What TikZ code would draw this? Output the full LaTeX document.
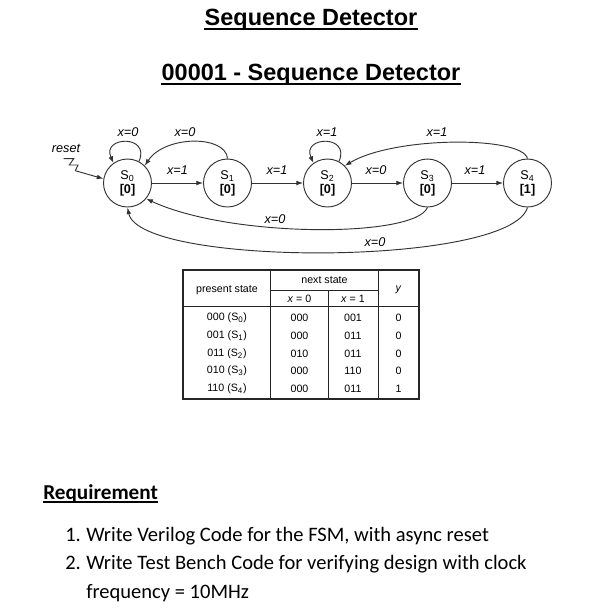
\documentclass[tikz,border=0pt]{standalone}
\usepackage{fontspec}
\setmainfont{Liberation Sans}
\newfontfamily\calibri{Carlito}
\usetikzlibrary{arrows.meta}
\definecolor{lineclr}{gray}{0.2}
\begin{document}
\begin{tikzpicture}[x=0.75pt,y=-0.75pt,
  state/.style={circle,draw=lineclr,line width=0.7pt,minimum size=36pt,inner sep=0pt,align=center,font=\fontsize{9.5}{10.5}\selectfont},
  lbl/.style={font=\fontsize{9.5}{11}\selectfont\itshape,inner sep=0pt},
  arr/.style={draw=lineclr,line width=0.7pt,-{Latex[length=5pt,width=3.6pt]}},
  plain/.style={draw=lineclr,line width=0.7pt},
  tbl/.style={font=\fontsize{8}{9}\selectfont,inner sep=0pt},
  tline/.style={draw=black!85,line width=0.6pt},
  title/.style={font=\fontsize{17.6}{20}\selectfont\bfseries,anchor=base,inner sep=0pt},
  req/.style={font=\calibri\fontsize{15.4}{18}\selectfont,anchor=base west,inner sep=0pt}]
\useasboundingbox (0,0) rectangle (605,612);

% titles
\node[title] (t1) at (311,25) {Sequence Detector};
\draw[line width=1.4pt] ([yshift=-3pt]t1.base west) -- ([yshift=-3pt]t1.base east);
\node[title] (t2) at (311,80) {00001 - Sequence Detector};
\draw[line width=1.4pt] ([yshift=-3pt]t2.base west) -- ([yshift=-3pt]t2.base east);

% states
\node[state] (s0) at (127.5,183) {S\textsubscript{0}\\\textbf{[0]}};
\node[state] (s1) at (227.5,183) {S\textsubscript{1}\\\textbf{[0]}};
\node[state] (s2) at (327.5,183) {S\textsubscript{2}\\\textbf{[0]}};
\node[state] (s3) at (427.5,183) {S\textsubscript{3}\\\textbf{[0]}};
\node[state] (s4) at (527.5,183) {S\textsubscript{4}\\\textbf{[1]}};

% reset
\node[lbl] (rst) at (66,148) {reset};
\coordinate (z0) at (63.7,158.7);
\coordinate (z1) at (73.7,158.7);
\coordinate (z2) at (69.3,165);
\coordinate (z3) at (78,165);
\coordinate (z4) at (75.3,170.7);
\draw[plain] (z0) -- (z1) -- (z2) -- (z3) -- (z4);
\draw[arr] (z4) -- (s0.170);

% straight transitions
\draw[arr] (s0) -- (s1);
\draw[arr] (s1) -- (s2);
\draw[arr] (s2) -- (s3);
\draw[arr] (s3) -- (s4);
\node[lbl] (l01) at (177.5,170) {x=1};
\node[lbl] (l12) at (277,170) {x=1};
\node[lbl] (l23) at (376,170) {x=0};
\node[lbl] (l34) at (475,170) {x=1};

% self loops
\draw[arr] (s0.62) .. controls +(12,-27) and +(-12,-27) .. (s0.125);
\node[lbl] (ls0) at (128,132) {x=0};
\draw[arr] (s2.62) .. controls +(12,-27) and +(-12,-27) .. (s2.125);
\node[lbl] (ls2) at (327,132) {x=1};

% upper arcs
\draw[arr] (s1.north) .. controls (226,135) and (165,135) .. (s0.45);
\node[lbl] (l10) at (185,132) {x=0};
\draw[arr] (s4.north) .. controls (522,136) and (395,136) .. (s2.45);
\node[lbl] (l42) at (437,132) {x=1};

% lower arcs
\draw[arr] (s3.south) .. controls (415,238) and (230,238) .. (s0.-40);
\node[lbl] (l30) at (275,219) {x=0};
\draw[arr] (s4.south) .. controls (510,267) and (140,267) .. (s0.south);
\node[lbl] (l40) at (375,242) {x=0};

% table
\draw[tline,line width=0.8pt] (183,270) rectangle (419,399);
\draw[tline] (270.7,270) -- (270.7,399);
\draw[tline] (378,270) -- (378,399);
\draw[tline] (328.5,290) -- (328.5,399);
\draw[tline] (270.7,290) -- (378,290);
\draw[tline] (183,306.7) -- (419,306.7);
\node[tbl] (hps) at (227,290) {present state};
\node[tbl] (hns) at (324.5,280) {next state};
\node[tbl] (hx0) at (299.5,298.5) {\textit{x} = 0};
\node[tbl] (hx1) at (353,298.5) {\textit{x} = 1};
\node[tbl] (hy) at (398.5,290) {\textit{y}};
\foreach \r/\ps/\na/\nb/\yy [count=\i] in {318/000 (S\textsubscript{0})/000/001/0,
  336/001 (S\textsubscript{1})/000/011/0,
  353.5/011 (S\textsubscript{2})/010/011/0,
  371/010 (S\textsubscript{3})/000/110/0,
  389/110 (S\textsubscript{4})/000/011/1}{
  \node[tbl] (p\i) at (227,\r) {\ps};
  \node[tbl] (a\i) at (299.5,\r) {\na};
  \node[tbl] (b\i) at (353,\r) {\nb};
  \node[tbl] (y\i) at (398.5,\r) {\yy};
}

% requirement
\node[font=\calibri\bfseries\fontsize{15.9}{18}\selectfont,anchor=base west,inner sep=0pt] (rq) at (43,499) {Requirement};
\draw[line width=1.1pt] ([yshift=-2.4pt]rq.base west) -- ([yshift=-2.4pt]rq.base east);
\node[req] (n1) at (65,541) {1.};
\node[req] (i1) at (86,541) {Write Verilog Code for the FSM, with async reset};
\node[req] (n2) at (65,569) {2.};
\node[req] (i2) at (86,569) {Write Test Bench Code for verifying design with clock};
\node[req] (i3) at (86,598) {frequency = 10MHz};
\end{tikzpicture}
\end{document}
